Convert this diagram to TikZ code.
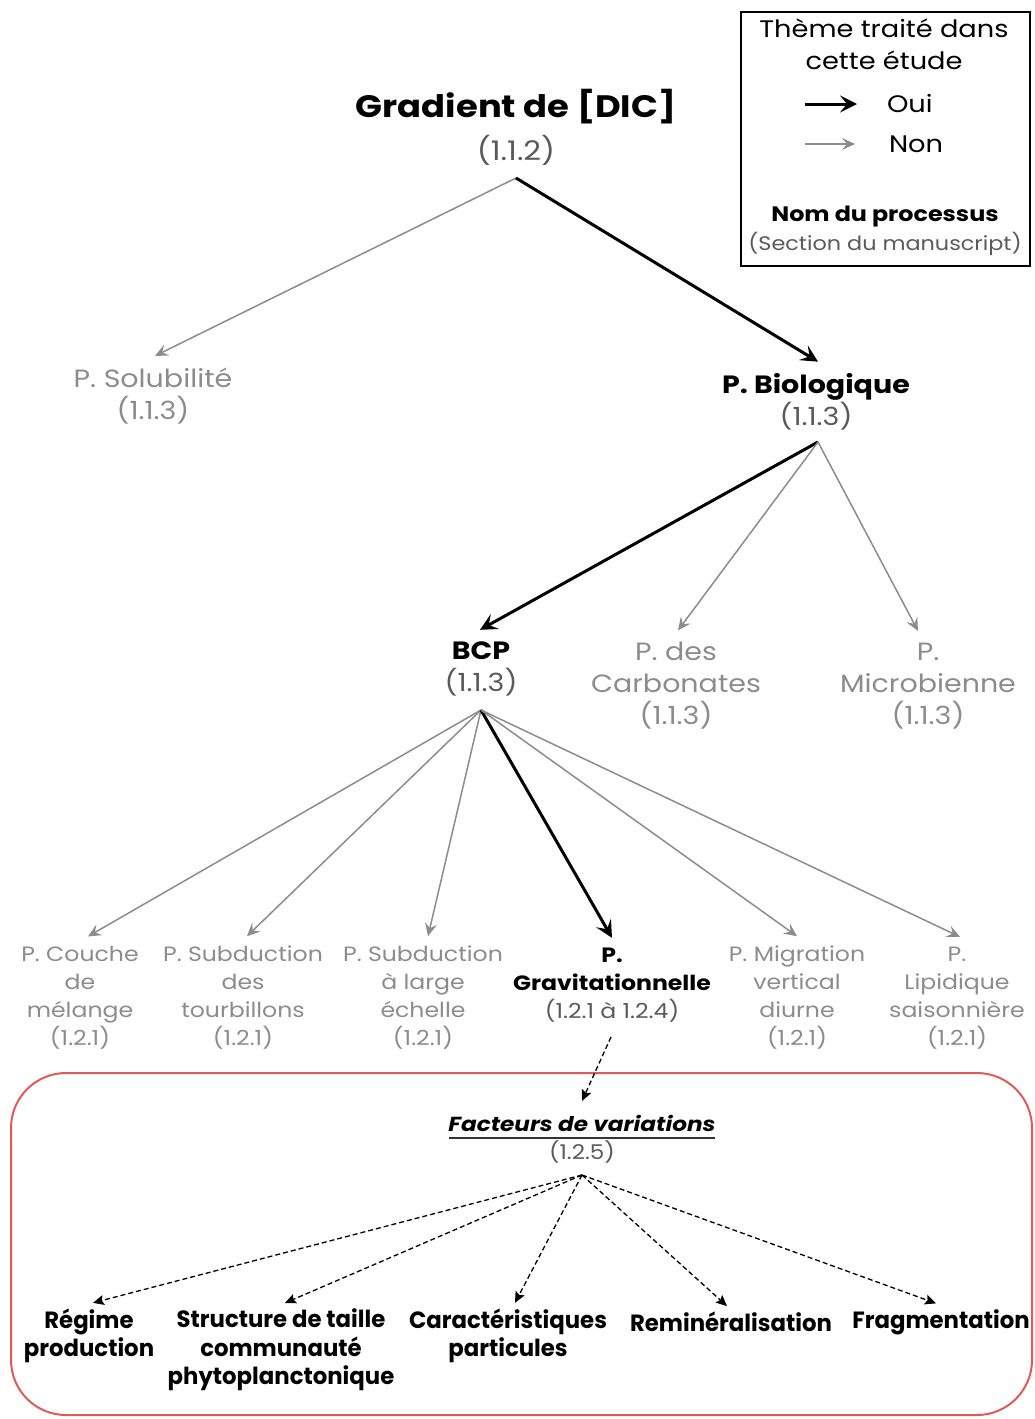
\documentclass[tikz,border=0pt]{standalone}
\usepackage{fontspec}
\setmainfont{Poppins}[FakeStretch=1.14]
\newfontfamily\condfont[FakeStretch=0.97]{Poppins}
\usetikzlibrary{arrows.meta}
\definecolor{gr}{HTML}{8C8C8C}
\definecolor{numgr}{HTML}{5A5A5A}
\definecolor{boxred}{HTML}{E05A5A}
\definecolor{noline}{HTML}{8C8C8C}
\tikzset{
  lbl/.style={align=center, inner sep=0pt, outer sep=0pt},
  glbl/.style={lbl, text=gr, font=\fontsize{25}{32}\selectfont},
  slbl/.style={lbl, text=gr, font=\fontsize{20.7}{28}\selectfont},
  blbl/.style={lbl, text=black, font=\fontsize{25}{32}\selectfont},
  flbl/.style={lbl, text=black, font=\condfont\bfseries\fontsize{23.5}{28.5}\selectfont},
  yes/.style={line width=3pt, black, -{Stealth[length=17pt,width=17pt,inset=7pt]}},
  no/.style={line width=1.5pt, noline, -{Stealth[length=13pt,width=12pt,inset=5pt]}},
  dsh/.style={line width=1.3pt, black, dash pattern=on 5pt off 3pt, -{Stealth[length=11pt,width=10pt,inset=2pt]}},
}
\begin{document}
\begin{tikzpicture}[x=1pt,y=-1pt]
\useasboundingbox (0,0) rectangle (1035,1419);
% legend
\node[draw=black, line width=1.2pt, minimum width=289pt, minimum height=254pt, inner sep=0pt] (leg) at (885.5,139) {};
\node[lbl, font=\fontsize{23.9}{32}\selectfont] (legt) at (884,44) {Thème traité dans\\cette étude};
\node[lbl, font=\fontsize{23.9}{32}\selectfont, anchor=west] (oui) at (887,103) {Oui};
\node[lbl, font=\fontsize{23.9}{32}\selectfont, anchor=west] (non) at (889,144) {Non};
\coordinate (ouiA) at (805,104);
\coordinate (nonA) at (805,144);
\draw[yes] (ouiA) -- ++(52,0);
\draw[no] (nonA) -- ++(50,0);
\node[lbl, font=\bfseries\fontsize{20.9}{27}\selectfont] (legn) at (885,217) {Nom du processus};
\node[lbl, text=numgr, font=\fontsize{19.6}{27}\selectfont] (legs) at (885,244) {(Section du manuscript)};
% title
\node[lbl, font=\bfseries\fontsize{31}{36}\selectfont] (dic) at (516,107) {Gradient de [DIC]};
\node[lbl, text=numgr, font=\fontsize{27}{30}\selectfont] (dicn) at (516,150) {(1.1.2)};
\coordinate (dicS) at (516,178);
% level 1
\node[glbl] (sol) at (153,396) {P. Solubilité\\(1.1.3)};
\node[blbl] (bio) at (816,402) {\bfseries P. Biologique\\{\color{numgr}(1.1.3)}};
\coordinate (bioS) at (818,442);
\draw[no] (dicS) -- ([xshift=2pt,yshift=12pt]sol.north);
\draw[yes] (dicS) -- ([xshift=2pt,yshift=12pt]bio.north);
% level 2
\node[blbl] (bcp) at (481,669) {\bfseries BCP\\{\color{numgr}(1.1.3)}};
\node[glbl] (carb) at (676,686) {P. des\\Carbonates\\(1.1.3)};
\node[glbl] (mic) at (928,686) {P.\\Microbienne\\(1.1.3)};
\coordinate (bcpS) at (481,710);
\draw[yes] (bioS) -- ([xshift=-1pt,yshift=12pt]bcp.north);
\draw[no] (bioS) -- ([xshift=2pt,yshift=12pt]carb.north);
\draw[no] (bioS) -- ([xshift=-10pt,yshift=12pt]mic.north);
% level 3
\node[slbl] (cm) at (80,998) {P. Couche\\de\\mélange\\(1.2.1)};
\node[slbl] (st) at (243,998) {P. Subduction\\des\\tourbillons\\(1.2.1)};
\node[slbl] (sl) at (423,998) {P. Subduction\\à large\\échelle\\(1.2.1)};
\node[slbl, text=black] (grav) at (612,985) {\bfseries P.\\\bfseries Gravitationnelle\\{\color{numgr}(1.2.1 à 1.2.4)}};
\node[slbl] (mig) at (797,998) {P. Migration\\vertical\\diurne\\(1.2.1)};
\node[slbl] (lip) at (957,998) {P.\\Lipidique\\saisonnière\\(1.2.1)};
\draw[no] (bcpS) -- ([xshift=8pt,yshift=10pt]cm.north);
\draw[no] (bcpS) -- ([xshift=4pt,yshift=10pt]st.north);
\draw[no] (bcpS) -- ([xshift=5pt,yshift=10pt]sl.north);
\draw[yes] (bcpS) -- ([yshift=10pt]grav.north);
\draw[no] (bcpS) -- ([yshift=10pt]mig.north);
\draw[no] (bcpS) -- ([xshift=3pt,yshift=10pt]lip.north);
% red box
\draw[boxred, line width=2pt, rounded corners=55pt] (11,1073) rectangle (1032,1415);
% factors
\node[lbl, font=\fontsize{20.3}{28}\selectfont] (fact) at (582,1139) {{\bfseries\itshape Facteurs de variations}\\{\color{numgr}(1.2.5)}};
\draw[line width=1.2pt, black!80] (449,1138) -- (715,1138);
\coordinate (gravS) at (611,1037);
\coordinate (factS) at (582,1175);
\draw[dsh] (gravS) -- ([yshift=14pt]fact.north);
\node[flbl] (reg) at (89,1336) {Régime\\production};
\node[flbl] (str) at (281,1350) {Structure de taille\\communauté\\phytoplanctonique};
\node[flbl] (car) at (508,1336) {Caractéristiques\\particules};
\node[flbl] (rem) at (731,1322) {Reminéralisation};
\node[flbl] (fra) at (941,1322) {Fragmentation};
\draw[dsh] (factS) -- ([xshift=4pt,yshift=6pt]reg.north);
\draw[dsh] (factS) -- ([xshift=4pt,yshift=6pt]str.north);
\draw[dsh] (factS) -- ([xshift=7pt,yshift=6pt]car.north);
\draw[dsh] (factS) -- ([xshift=-4pt,yshift=6pt]rem.north);
\draw[dsh] (factS) -- ([xshift=-5pt,yshift=6pt]fra.north);
\end{tikzpicture}
\end{document}
